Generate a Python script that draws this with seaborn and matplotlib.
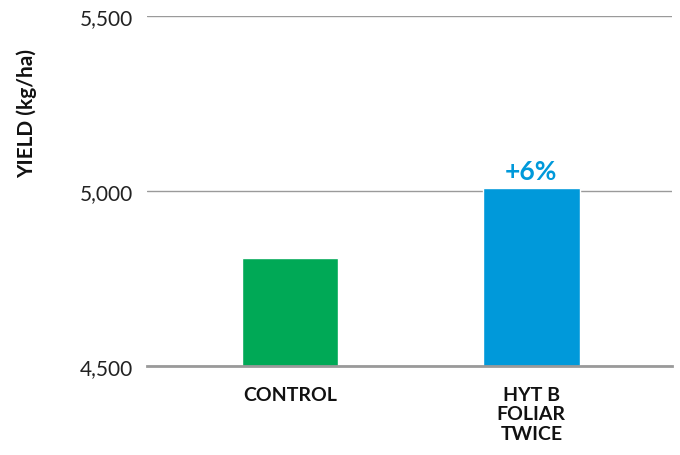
import pandas as pd
import matplotlib.pyplot as plt
import seaborn as sns

# data
treatments = ['CONTROL', 'HYT B\nFOLIAR\nTWICE']
yield_kg_ha = [4810, 5008]
bar_colors = ['#00A956', '#0099DA']
gain_label = '+6%'

df = pd.DataFrame({'Treatment': treatments, 'Yield': yield_kg_ha})

sns.set_theme(style='white')
plt.rcParams['font.family'] = ['Lato', 'DejaVu Sans']

fig = plt.figure(figsize=(6.8, 4.56), dpi=100)
ax = fig.add_axes([0.216, 0.195, 0.772, 0.768])

sns.barplot(data=df, x='Treatment', y='Yield', hue='Treatment',
            palette=bar_colors, width=0.40, legend=False, ax=ax,
            saturation=1, zorder=3)

ax.set_ylim(4500, 5500)
ax.set_xlim(-0.595, 1.583)
ax.set_yticks([4500, 5000, 5500])
ax.set_yticklabels(['4,500', '5,000', '5,500'], fontsize=15, color='#222222')
ax.yaxis.grid(True, color='#9a9a9a', linewidth=1.0, zorder=0)
ax.tick_params(axis='y', length=0, pad=10)
ax.tick_params(axis='x', length=0, pad=14)
for lbl in ax.get_xticklabels():
    lbl.set_fontsize(14)
    lbl.set_fontweight('bold')
    lbl.set_color('#111111')
    lbl.set_verticalalignment('top')
    lbl.set_linespacing(1.2)

for side in ['top', 'right', 'left']:
    ax.spines[side].set_visible(False)
ax.spines['bottom'].set_color('#9a9a9a')
ax.spines['bottom'].set_linewidth(2)
ax.spines['bottom'].set_zorder(4)

ax.set_xlabel('')
ax.set_ylabel('YIELD (kg/ha)', fontsize=15, fontweight='bold', color='#111111')
ax.yaxis.set_label_coords(-0.21, 0.725)

# percent gain above the treated bar
ax.text(1, yield_kg_ha[1] + 15, gain_label, ha='center', va='bottom',
        fontsize=19, fontweight='bold', color='#0099DA')

fig.savefig('out.png', dpi=100)
